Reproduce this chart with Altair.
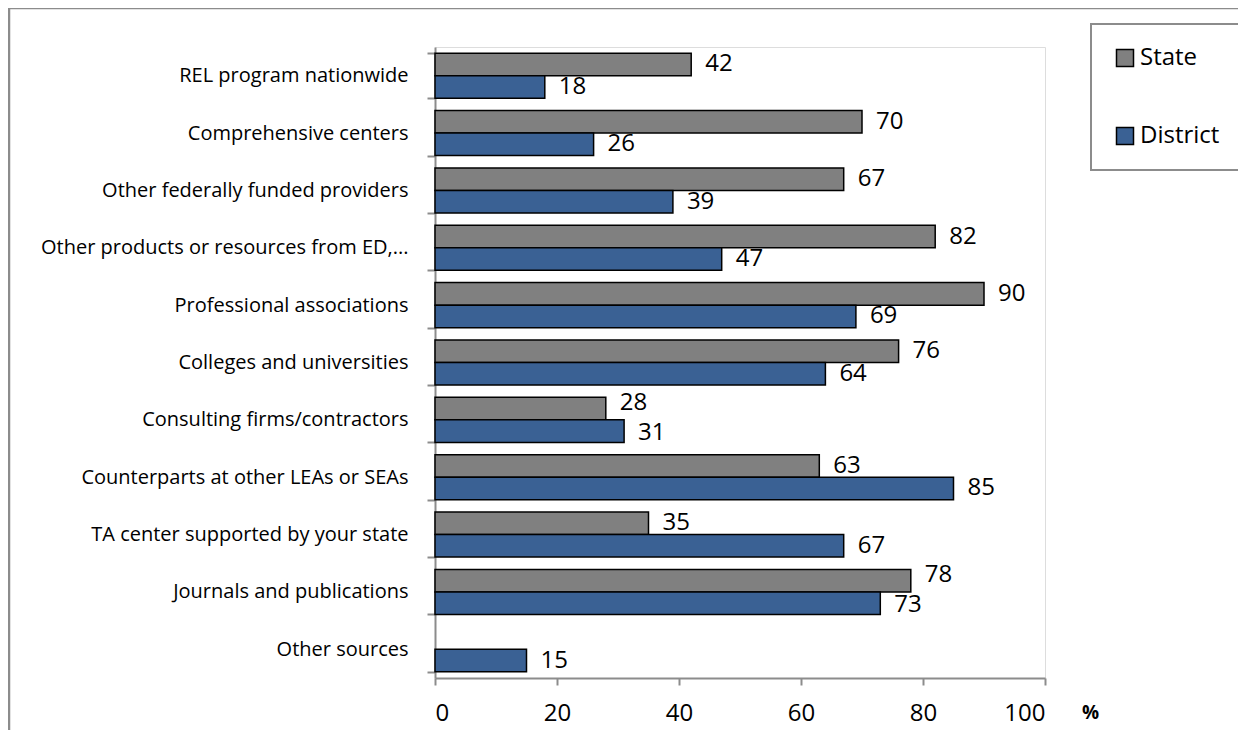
import altair as alt
import pandas as pd

categories = [
    "REL program nationwide",
    "Comprehensive centers",
    "Other federally funded providers",
    "Other products or resources from ED,...",
    "Professional associations",
    "Colleges and universities",
    "Consulting firms/contractors",
    "Counterparts at other LEAs or SEAs",
    "TA center supported by your state",
    "Journals and publications",
    "Other sources",
]
state_values = [42, 70, 67, 82, 90, 76, 28, 63, 35, 78, None]
district_values = [18, 26, 39, 47, 69, 64, 31, 85, 67, 73, 15]
series = ["State", "District"]
colors = ["#808080", "#3A6194"]
x_ticks = [0, 20, 40, 60, 80, 100]
# rows where the two value labels sit close together (nudged apart, as in the source)
close_label_rows = ["Consulting firms/contractors", "Journals and publications"]

rows = []
for c, s, d in zip(categories, state_values, district_values):
    if s is not None:
        rows.append({"cat": c, "series": "State", "value": s})
    rows.append({"cat": c, "series": "District", "value": d})
df = pd.DataFrame(rows)

FONT = "Open Sans"

y_enc = alt.Y(
    "cat:N",
    sort=categories,
    title=None,
    scale=alt.Scale(paddingInner=0.215, paddingOuter=0.1075),
    axis=alt.Axis(
        tickBand="extent",
        domainColor="#8c8c8c",
        domainWidth=2,
        tickColor="#8c8c8c",
        tickWidth=2,
        tickSize=8,
        labelFontSize=20,
        labelFont=FONT,
        labelColor="black",
        labelPadding=19,
        labelLimit=500,
    ),
)
x_enc = alt.X(
    "value:Q",
    scale=alt.Scale(domain=[0, 100], nice=False),
    title="%",
    axis=alt.Axis(
        values=x_ticks,
        grid=False,
        domainColor="#8c8c8c",
        domainWidth=2,
        tickColor="#8c8c8c",
        tickWidth=2,
        tickSize=7,
        labelFontSize=24,
        labelFont=FONT,
        labelColor="black",
        labelPadding=16,
        titleFont=FONT,
        titleFontSize=19,
        titleFontWeight="bold",
        titleX=655,
        titleY=34,
        titleBaseline="middle",
        titleAlign="center",
        titleColor="black",
    ),
)
yoff = alt.YOffset("series:N", sort=series, scale=alt.Scale(paddingInner=0, paddingOuter=0))

bars = alt.Chart(df).mark_bar(stroke="black", strokeWidth=1.5).encode(
    y=y_enc,
    x=x_enc,
    yOffset=yoff,
    color=alt.Color(
        "series:N",
        sort=series,
        scale=alt.Scale(domain=series, range=colors),
        legend=alt.Legend(
            title=None,
            orient="none",
            legendX=656,
            legendY=-23,
            symbolType="square",
            symbolSize=289,
            symbolStrokeColor="black",
            symbolStrokeWidth=1.5,
            labelFontSize=24,
            labelFont=FONT,
            labelColor="black",
            labelOffset=3,
            padding=22,
        ),
    ),
)


def value_labels(flt, dy):
    return alt.Chart(df).transform_filter(flt).mark_text(
        align="left", baseline="middle", dx=14, dy=dy, fontSize=24, font=FONT, color="black"
    ).encode(
        y=alt.Y("cat:N", sort=categories),
        x=alt.X("value:Q"),
        yOffset=yoff,
        text=alt.Text("value:Q", format="d"),
    )


is_close = alt.FieldOneOfPredicate(field="cat", oneOf=close_label_rows)
labels_normal = value_labels(~is_close, 0)
labels_state_close = value_labels(is_close & (alt.datum.series == "State"), -6)
labels_district_close = value_labels(is_close & (alt.datum.series == "District"), 2)

frame_data = alt.Data(values=[{"k": 1}])
frame_left = alt.Chart(frame_data).mark_rule(color="#8c8c8c", strokeWidth=2.5).encode(
    x=alt.value(-426), y=alt.value(-39), y2=alt.value(700)
)
frame_top = alt.Chart(frame_data).mark_rule(color="#8c8c8c", strokeWidth=2.5).encode(
    x=alt.value(-426), x2=alt.value(810), y=alt.value(-39)
)

chart = alt.layer(
    bars, labels_normal, labels_state_close, labels_district_close, frame_left, frame_top
).properties(
    width=610,
    height=631,
    autosize=alt.AutoSizeParams(type="none"),
    padding={"left": 427, "top": 39, "right": 193, "bottom": 52},
).configure_view(stroke="transparent", strokeWidth=0).configure(background="white").configure_legend(
    strokeColor="#8c8c8c", strokeWidth=2, rowPadding=54
)

chart.save("out.html", embed_options={"renderer": "svg", "actions": False})
